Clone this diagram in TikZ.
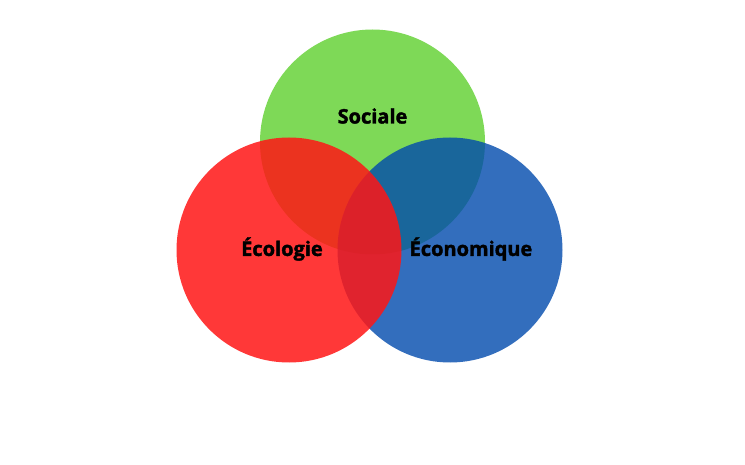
\documentclass[tikz,border=0pt]{standalone}
\usepackage{fontspec}
\setmainfont{Open Sans}[BoldFeatures={FakeBold=1.8}]
\definecolor{cgreen}{HTML}{7ED957}
\definecolor{cred}{HTML}{FF1616}
\definecolor{cblue}{HTML}{004AAD}
\begin{document}
\begin{tikzpicture}[x=1pt,y=-1pt,
  venn/.style={circle, minimum size=225pt, inner sep=0pt, draw=none},
  lbl/.style={font=\fontsize{20}{22}\selectfont\bfseries, text=black}]
\useasboundingbox (0,0) rectangle (745,465);
\fill[white] (0,0) rectangle (745,465);
\node[venn, fill=cgreen] (soc) at (372.5,142) {};
\node[venn, fill=cblue, fill opacity=0.8] (eco) at (450,250) {};
\node[venn, fill=cred, fill opacity=0.85] (ecol) at (289,250) {};
\node[lbl] (tsoc) at (372.5,116) {Sociale};
\node[lbl] (tecol) at (282,249) {Écologie};
\node[lbl] (teco) at (471,249) {Économique};
\end{tikzpicture}
\end{document}
